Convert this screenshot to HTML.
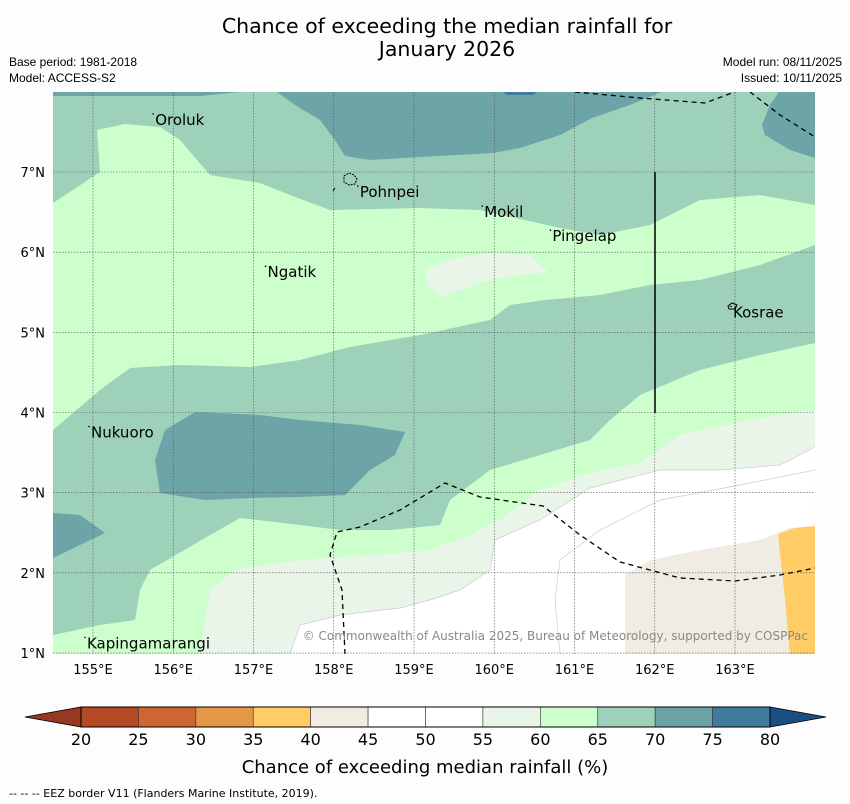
<!DOCTYPE html>
<html><head><meta charset="utf-8"><style>
body{margin:0;background:#fdfdfd;font-family:"DejaVu Sans","Liberation Sans",sans-serif;}
svg{display:block}
.sm{font-family:"Liberation Sans","DejaVu Sans",sans-serif;}
</style></head><body>
<svg width="850" height="804" viewBox="0 0 850 804">
<rect width="850" height="804" fill="#fdfdfd"/>
<text x="447" y="33" font-size="20.5" text-anchor="middle">Chance of exceeding the median rainfall for</text>
<text x="447" y="56" font-size="20.5" text-anchor="middle">January 2026</text>
<text class="sm" x="9" y="66" font-size="12">Base period: 1981-2018</text>
<text class="sm" x="9" y="82" font-size="12">Model: ACCESS-S2</text>
<text class="sm" x="842" y="66" font-size="12" text-anchor="end">Model run: 08/11/2025</text>
<text class="sm" x="842" y="82" font-size="12" text-anchor="end">Issued: 10/11/2025</text>
<defs><clipPath id="mc"><rect x="53" y="92" width="762" height="562"/></clipPath></defs>
<g id="map" clip-path="url(#mc)"></g>
<g id="axes"></g>
<g id="cbar"></g>
<text x="425" y="773" font-size="18" text-anchor="middle">Chance of exceeding median rainfall (%)</text>
<text x="9" y="797" font-size="11">--  --  -- EEZ border V11 (Flanders Marine Institute, 2019).</text>
</svg>
<script>
const NS="http://www.w3.org/2000/svg";
const lonTicks=[155,156,157,158,159,160,161,162,163];
const latTicks=[1,2,3,4,5,6,7];
const cbTicks=[20,25,30,35,40,45,50,55,60,65,70,75,80];
const cbColors=["#b34a24","#cf6532","#e49745","#ffcc66","#f0ece4","#ffffff","#ffffff","#e9f5e9","#ccffcc","#9dd1b9","#6ca4a8","#427c9c"];
const cbLow="#993820", cbHigh="#1a4f82";
const places=[["Oroluk",155.75,7.65],["Pohnpei",158.3,6.75],["Mokil",159.85,6.5],["Pingelap",160.7,6.2],["Ngatik",157.15,5.75],["Kosrae",162.95,5.25],["Nukuoro",154.95,3.75],["Kapingamarangi",154.9,1.12]];
function X(lon){return 93+(lon-155)*80.25;}
function Y(lat){return 172+(7-lat)*80.17;}
function el(t,a,p){const e=document.createElementNS(NS,t);for(const k in a)e.setAttribute(k,a[k]);p.appendChild(e);return e;}
const map=document.getElementById('map');
const regions=[
 ["#ccffcc","53,92 815,92 815,654 53,654","contour-60-65"],
 ["#9dd1b9","53,92 815,92 815,205 760,195 700,200 650,225 600,235 560,228 480,210 420,208 330,210 290,195 260,183 210,175 180,140 160,127 125,124 97,130 100,172 53,203","contour-65-70-north"],
 ["#6ca4a8","277,92 661,92 630,105 592,118 560,135 520,148 493,153 420,157 370,160 345,156 335,140 320,120 295,105","contour-70-75-north"],
 ["#6ca4a8","53,92 240,92 200,96 53,96","contour-70-75-topleft"],
 ["#427c9c","503,92 537,92 533,95 507,95","contour-75-80-top"],
 ["#6ca4a8","779,92 815,92 815,158 790,150 765,135 762,125 770,105","contour-70-75-northeast"],
 ["#e9f5e9","425,270 450,260 490,253 530,255 548,272 520,275 490,280 460,290 440,297 428,285","contour-55-60-island"],
 ["#9dd1b9","53,430 100,390 130,368 180,365 250,367 300,360 350,347 420,335 490,320 510,305 545,300 600,295 650,285 700,280 760,265 815,245 815,343 760,355 700,370 640,395 610,420 590,440 530,458 490,470 450,500 440,525 390,530 340,530 300,525 240,518 210,535 150,570 140,590 135,620 100,625 53,635","contour-65-70-middle"],
 ["#6ca4a8","195,412 260,415 300,420 360,425 405,432 395,455 370,470 345,495 300,497 250,498 205,500 160,493 155,460 165,430","contour-70-75-middle"],
 ["#6ca4a8","53,513 80,515 105,533 80,545 53,558","contour-70-75-west"],
 ["#e9f5e9","200,654 210,590 235,570 300,560 380,555 430,550 470,535 500,520 540,490 600,470 640,463 680,435 750,420 815,410 815,654","contour-55-60-south"],
 ["#ffffff","290,654 300,625 340,615 400,608 430,600 460,590 490,570 495,540 540,520 590,488 660,470 720,470 780,465 815,447 815,654","contour-45-55-south"],
 ["#f0ece4","625,654 625,575 650,560 700,550 760,540 790,528 815,526 815,654","contour-40-45"],
 ["#ffcc66","778,534 795,528 815,526 815,654 790,654 785,600","contour-35-40"]
];
regions.forEach(r=>{const p=el('polygon',{points:r[1],fill:r[0]},map);

});
const faint=["290,654 300,625 340,615 400,608 430,600 460,590 490,570 495,540 540,520 590,488 660,470 720,470 780,465 815,447","560,654 555,600 560,560 600,530 660,500 740,485 815,470"];
faint.forEach(f=>el('polyline',{points:f,fill:'none',stroke:'#ccc','stroke-width':0.7},map));
lonTicks.forEach(l=>{const g=el('line',{x1:X(l),x2:X(l),y1:92,y2:654,stroke:'#555','stroke-width':0.6,'stroke-dasharray':'1.5,1.5'},map);

});
latTicks.forEach(l=>{const g=el('line',{x1:53,x2:815,y1:Y(l),y2:Y(l),stroke:'#555','stroke-width':0.6,'stroke-dasharray':'1.5,1.5'},map);

});
["575,92 640,98 705,103 740,90","750,92 780,115 815,137","345,654 342,590 330,555 337,532 360,527 400,510 445,483 480,497 543,506 580,535 620,562 680,578 735,581 780,575 815,568"].forEach(p=>{
 const e=el('polyline',{points:p,fill:'none',stroke:'#000','stroke-width':1.3,'stroke-dasharray':'5,4'},map);
 
 });
const vl=el('line',{x1:655,x2:655,y1:172,y2:413,stroke:'#000','stroke-width':1.5},map);


el('path',{d:'M344,176 l5,-3 5,2 3,4 -2,5 -6,1 -5,-3z',fill:'none',stroke:'#000','stroke-width':1,'stroke-dasharray':'2,1'},map);
el('line',{x1:333,y1:191,x2:335,y2:188,stroke:'#000','stroke-width':1},map);
el('path',{d:'M728,306 l4,-3 5,2 -2,4 -6,0z',fill:'none',stroke:'#000','stroke-width':1},map);
places.forEach(p=>{const t=el('text',{x:X(p[1])+2,y:Y(p[2])+5,'font-size':15},map);t.textContent=p[0];


el('circle',{cx:X(p[1]),cy:Y(p[2])-6,r:0.8,fill:'#000'},map);});
const cp=el('text',{x:808,y:640,'font-size':12,'text-anchor':'end',fill:'#888'},map);
cp.textContent='© Commonwealth of Australia 2025, Bureau of Meteorology, supported by COSPPac';


const ax=document.getElementById('axes');
lonTicks.forEach(l=>{const t=el('text',{x:X(l),y:674,'font-size':13,'text-anchor':'middle'},ax);t.textContent=l+'°E';

});
latTicks.forEach(l=>{const t=el('text',{x:45,y:Y(l)+5,'font-size':13,'text-anchor':'end'},ax);t.textContent=l+'°N';

});
const cb=document.getElementById('cbar');
const cx0=81,cx1=770,cy0=707,cy1=727;
function CX(v){return cx0+(v-cbTicks[0])/(cbTicks[cbTicks.length-1]-cbTicks[0])*(cx1-cx0);}
const lt=el('polygon',{points:`${cx0},${cy0} ${cx0},${cy1} 25,717`,fill:cbLow,stroke:'#000','stroke-width':0.8},cb);


const rt=el('polygon',{points:`${cx1},${cy0} ${cx1},${cy1} 826,717`,fill:cbHigh,stroke:'#000','stroke-width':0.8},cb);


cbColors.forEach((c,i)=>{const r=el('rect',{x:CX(cbTicks[i]),y:cy0,width:CX(cbTicks[i+1])-CX(cbTicks[i]),height:cy1-cy0,fill:c,stroke:'#333','stroke-width':0.6},cb);

});
el('rect',{x:cx0,y:cy0,width:cx1-cx0,height:cy1-cy0,fill:'none',stroke:'#000','stroke-width':1},cb);
cbTicks.forEach(v=>{const t=el('text',{x:CX(v),y:745,'font-size':16,'text-anchor':'middle'},cb);t.textContent=v;

});
</script>
</body></html>
